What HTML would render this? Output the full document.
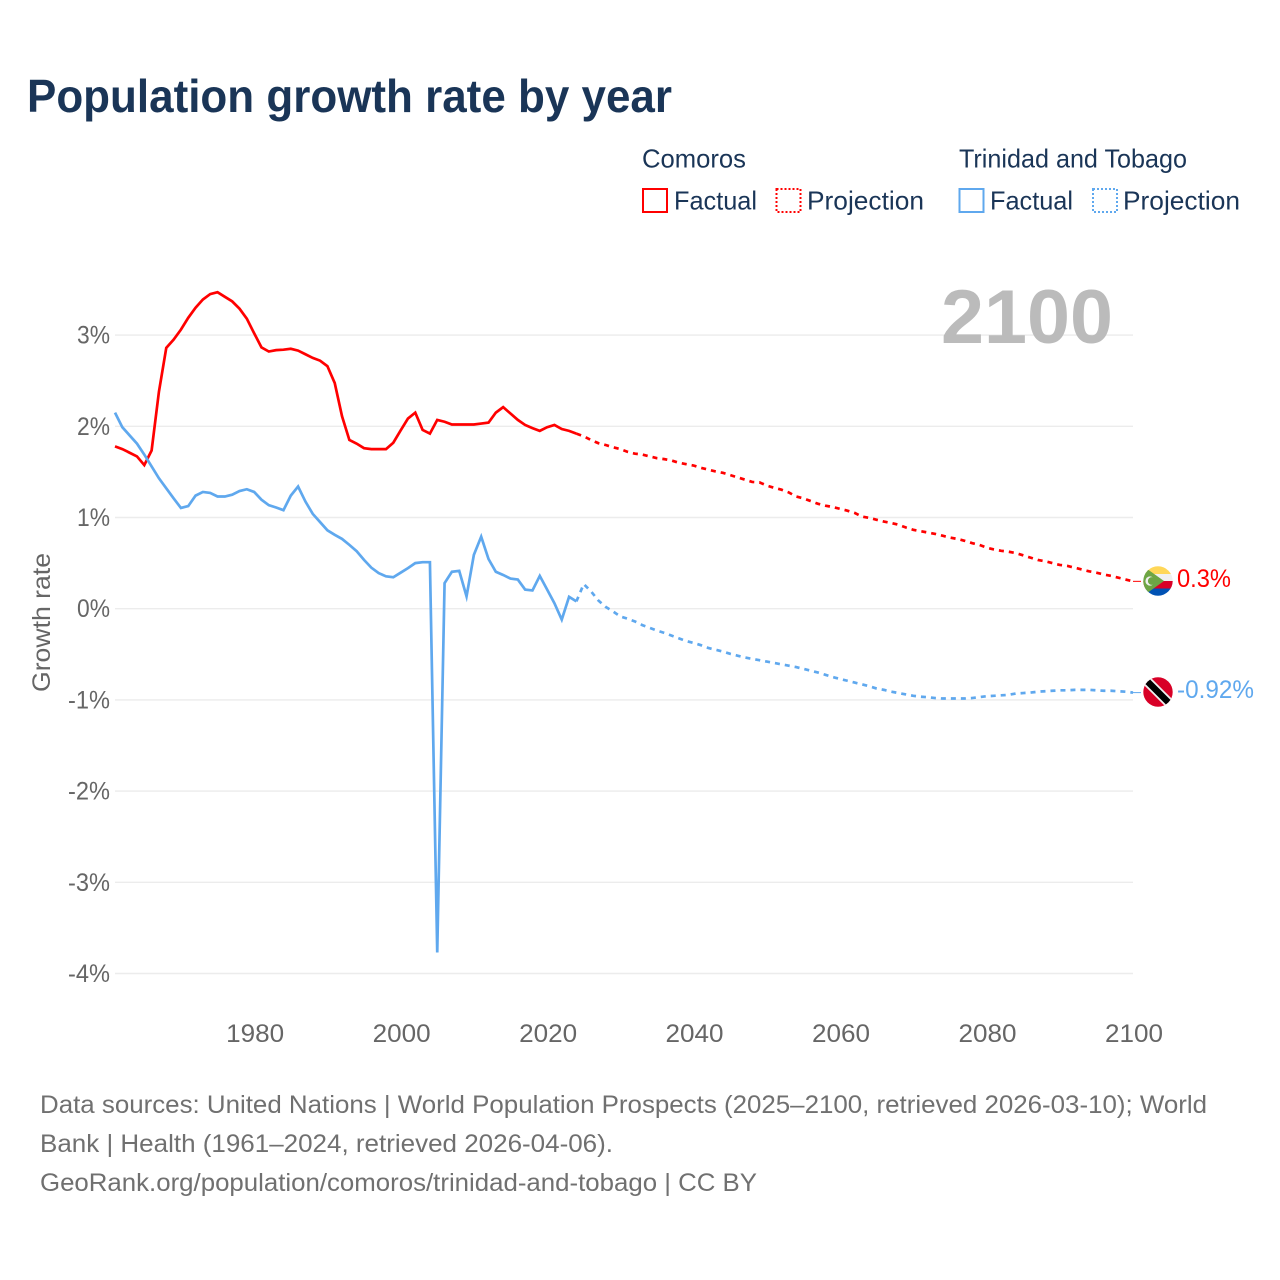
<!DOCTYPE html>
<html lang="en">
<head>
<meta charset="utf-8">
<title>Population growth rate by year</title>
<style>
  html, body { margin: 0; padding: 0; background: #fff; }
  svg { display: block; font-family: "Liberation Sans", sans-serif; }
</style>
</head>
<body>
<svg id="chart" xmlns="http://www.w3.org/2000/svg" width="1280" height="1280" viewBox="0 0 1280 1280">
  <defs>
    <clipPath id="flag-clip-a"><circle cx="1158" cy="581" r="14.7"/></clipPath>
    <clipPath id="flag-clip-b"><circle cx="1158" cy="692" r="14.7"/></clipPath>
  </defs>
  <rect width="1280" height="1280" fill="#fff"/>

  <text x="27" y="112" font-size="46" font-weight="700" fill="#1a3557" textLength="645" lengthAdjust="spacingAndGlyphs">Population growth rate by year</text>

  <g font-size="26" fill="#1a3557">
    <text x="642" y="167.5" textLength="104" lengthAdjust="spacingAndGlyphs">Comoros</text>
    <text x="959" y="167.5" textLength="228" lengthAdjust="spacingAndGlyphs">Trinidad and Tobago</text>

    <g>
      <rect x="643" y="189" width="24" height="23" fill="none" stroke="#ff0000" stroke-width="2"/>
      <text x="674" y="209.5" textLength="83" lengthAdjust="spacingAndGlyphs">Factual</text>
    </g>
    <g>
      <rect x="776.5" y="189" width="24" height="23" fill="none" stroke="#ff0000" stroke-width="2" stroke-dasharray="2 2"/>
      <text x="807" y="209.5" textLength="117" lengthAdjust="spacingAndGlyphs">Projection</text>
    </g>
    <g>
      <rect x="959.5" y="189" width="24" height="23" fill="none" stroke="#5fa8ee" stroke-width="2"/>
      <text x="990" y="209.5" textLength="83" lengthAdjust="spacingAndGlyphs">Factual</text>
    </g>
    <g>
      <rect x="1093" y="189" width="24" height="23" fill="none" stroke="#5fa8ee" stroke-width="2" stroke-dasharray="2 2"/>
      <text x="1123" y="209.5" textLength="117" lengthAdjust="spacingAndGlyphs">Projection</text>
    </g>
  </g>

  <g id="grid"></g>
  <g id="y-axis" font-size="25" fill="#666"></g>
  <g id="x-axis" font-size="25" fill="#666"></g>

  <text transform="translate(50,692) rotate(-90)" font-size="25" fill="#666" textLength="139" lengthAdjust="spacingAndGlyphs">Growth rate</text>

  <text x="941" y="343" font-size="76" font-weight="700" fill="#bbbbbb" textLength="172" lengthAdjust="spacingAndGlyphs">2100</text>

  <g id="series"></g>

  <g clip-path="url(#flag-clip-a)">
    <rect x="1143" y="566" width="30" height="8" fill="#ffd758"/>
    <rect x="1143" y="574" width="30" height="7" fill="#f0f0f0"/>
    <rect x="1143" y="581" width="30" height="7.5" fill="#d80027"/>
    <rect x="1143" y="588.5" width="30" height="8" fill="#0052b4"/>
    <polygon points="1143,566 1143,596 1164,581" fill="#6da544"/>
    <circle cx="1150" cy="581" r="4.6" fill="#f0f0f0"/>
    <circle cx="1151.8" cy="581" r="3.9" fill="#6da544"/>
  </g>
  <g clip-path="url(#flag-clip-b)">
    <rect x="1143" y="677" width="30" height="30" fill="#d80027"/>
    <line x1="1146" y1="680" x2="1170" y2="704" stroke="#f0f0f0" stroke-width="10"/>
    <line x1="1146" y1="680" x2="1170" y2="704" stroke="#000" stroke-width="6.5"/>
  </g>

  <text id="end-label-a" x="1177" y="587" font-size="25" fill="#ff0000" textLength="54" lengthAdjust="spacingAndGlyphs">0.3%</text>
  <text id="end-label-b" x="1177" y="698" font-size="25" fill="#5fa8ee" textLength="77" lengthAdjust="spacingAndGlyphs">-0.92%</text>

  <g font-size="25" fill="#707070">
    <text x="40" y="1113" textLength="1167" lengthAdjust="spacingAndGlyphs">Data sources: United Nations | World Population Prospects (2025–2100, retrieved 2026-03-10); World</text>
    <text x="40" y="1152" textLength="573" lengthAdjust="spacingAndGlyphs">Bank | Health (1961–2024, retrieved 2026-04-06).</text>
    <text x="40" y="1191" textLength="717" lengthAdjust="spacingAndGlyphs">GeoRank.org/population/comoros/trinidad-and-tobago | CC BY</text>
  </g>
</svg>

<script>
const yTickValues = [3, 2, 1, 0, -1, -2, -3, -4];
const xTickYears = [1980, 2000, 2020, 2040, 2060, 2080, 2100];
const factualStartYear = 1961;
const projectionStartYear = 2024;

const comorosFactual = [
  1.78, 1.75, 1.71, 1.67, 1.575, 1.735, 2.38, 2.86, 2.95, 3.06,
  3.19, 3.30, 3.39, 3.45, 3.47, 3.42, 3.37, 3.29, 3.18, 3.02,
  2.865, 2.82, 2.835, 2.84, 2.85, 2.83, 2.79, 2.75, 2.72, 2.66,
  2.475, 2.11, 1.85, 1.81, 1.76, 1.75, 1.75, 1.75, 1.82, 1.955,
  2.085, 2.15, 1.96, 1.92, 2.07, 2.05, 2.02, 2.02, 2.02, 2.02,
  2.03, 2.04, 2.15, 2.21, 2.14, 2.07, 2.015, 1.98, 1.95, 1.99,
  2.015, 1.97, 1.95, 1.92
];

const comorosProjection = [
  1.92, 1.89, 1.85, 1.815, 1.795, 1.77, 1.75, 1.72, 1.70, 1.69, 1.67,
  1.65, 1.64, 1.625, 1.60, 1.585, 1.57, 1.545, 1.525, 1.505, 1.49,
  1.465, 1.44, 1.415, 1.39, 1.385, 1.35, 1.325, 1.305, 1.275, 1.23,
  1.21, 1.18, 1.15, 1.13, 1.115, 1.095, 1.075, 1.05, 1.01, 0.995,
  0.975, 0.955, 0.94, 0.92, 0.89, 0.865, 0.85, 0.835, 0.82, 0.80,
  0.78, 0.765, 0.745, 0.72, 0.70, 0.67, 0.65, 0.635, 0.625, 0.61,
  0.585, 0.56, 0.535, 0.52, 0.50, 0.48, 0.47, 0.45, 0.43, 0.41,
  0.395, 0.375, 0.36, 0.34, 0.32, 0.30
];

const trinidadFactual = [
  2.15, 1.99, 1.90, 1.81, 1.69, 1.56, 1.43, 1.32, 1.21, 1.105,
  1.125, 1.24, 1.28, 1.27, 1.23, 1.23, 1.25, 1.29, 1.31, 1.28,
  1.195, 1.135, 1.11, 1.08, 1.24, 1.34, 1.175, 1.04, 0.95, 0.86,
  0.81, 0.765, 0.70, 0.63, 0.535, 0.45, 0.39, 0.355, 0.345, 0.395,
  0.445, 0.50, 0.51, 0.51, -3.77, 0.28, 0.405, 0.415, 0.135, 0.59,
  0.79, 0.545, 0.405, 0.37, 0.33, 0.32, 0.21, 0.20, 0.36, 0.21,
  0.06, -0.12, 0.13, 0.08
];

const trinidadProjection = [
  0.08, 0.27, 0.19, 0.09, 0.02, -0.03, -0.085, -0.11, -0.14, -0.18, -0.21,
  -0.24, -0.265, -0.295, -0.325, -0.355, -0.375, -0.40, -0.43, -0.45, -0.47,
  -0.495, -0.515, -0.535, -0.55, -0.565, -0.58, -0.595, -0.61, -0.625, -0.64,
  -0.66, -0.68, -0.70, -0.725, -0.75, -0.77, -0.79, -0.81, -0.83, -0.85,
  -0.875, -0.89, -0.91, -0.925, -0.94, -0.955, -0.965, -0.97, -0.98, -0.985,
  -0.985, -0.985, -0.985, -0.98, -0.97, -0.96, -0.955, -0.95, -0.945, -0.93,
  -0.925, -0.92, -0.91, -0.905, -0.90, -0.895, -0.895, -0.89, -0.89, -0.89,
  -0.895, -0.90, -0.90, -0.905, -0.91, -0.92
];

const SVG_NS = 'http://www.w3.org/2000/svg';
const RED = '#ff0000';
const BLUE = '#5fa8ee';

function xScale(year) { return 115 + (year - 1961) * (1133 - 115) / 139; }
function yScale(value) { return 608.7 - value * 91.2; }

function linePath(startYear, values) {
  return values.map(function (v, i) {
    return (i ? 'L' : 'M') + xScale(startYear + i).toFixed(2) + ' ' + yScale(v).toFixed(2);
  }).join(' ');
}

const gridGroup = document.getElementById('grid');
const yAxisGroup = document.getElementById('y-axis');
const xAxisGroup = document.getElementById('x-axis');
const seriesGroup = document.getElementById('series');

yTickValues.forEach(function (v) {
  const rule = document.createElementNS(SVG_NS, 'line');
  
  
  rule.setAttribute('x1', xScale(1961));
  rule.setAttribute('x2', xScale(2100));
  rule.setAttribute('y1', yScale(v));
  rule.setAttribute('y2', yScale(v));
  rule.setAttribute('stroke', '#ececec');
  rule.setAttribute('stroke-width', '1.4');
  gridGroup.appendChild(rule);

  const label = document.createElementNS(SVG_NS, 'text');
  
  
  label.setAttribute('x', 110);
  label.setAttribute('y', yScale(v) + 8.5);
  label.setAttribute('text-anchor', 'end');
  label.setAttribute('textLength', v < 0 ? 42 : 33);
  label.setAttribute('lengthAdjust', 'spacingAndGlyphs');
  label.textContent = v + '%';
  yAxisGroup.appendChild(label);
});

xTickYears.forEach(function (year) {
  const label = document.createElementNS(SVG_NS, 'text');
  
  
  label.setAttribute('x', xScale(year) + 1);
  label.setAttribute('y', 1042);
  label.setAttribute('text-anchor', 'middle');
  label.setAttribute('textLength', 58);
  label.setAttribute('lengthAdjust', 'spacingAndGlyphs');
  label.textContent = String(year);
  xAxisGroup.appendChild(label);
});

function addLine(name, startYear, values, color, dashed) {
  const path = document.createElementNS(SVG_NS, 'path');
  
  
  path.setAttribute('d', linePath(startYear, values));
  path.setAttribute('fill', 'none');
  path.setAttribute('stroke', color);
  path.setAttribute('stroke-width', '2.7');
  path.setAttribute('stroke-linejoin', 'miter');
  path.setAttribute('stroke-miterlimit', '30');
  if (dashed) {
    path.setAttribute('stroke-dasharray', '5 5');
  }
  seriesGroup.appendChild(path);
}

function addConnector(name, lastValue, color) {
  const connector = document.createElementNS(SVG_NS, 'line');
  
  
  connector.setAttribute('x1', xScale(2100));
  connector.setAttribute('x2', xScale(2100) + 8);
  connector.setAttribute('y1', yScale(lastValue));
  connector.setAttribute('y2', yScale(lastValue));
  connector.setAttribute('stroke', color);
  connector.setAttribute('stroke-width', '1');
  seriesGroup.appendChild(connector);
}

addLine('comoros-factual-line', factualStartYear, comorosFactual, RED, false);
addLine('comoros-projection-line', projectionStartYear, comorosProjection, RED, true);
addLine('trinidad-factual-line', factualStartYear, trinidadFactual, BLUE, false);
addLine('trinidad-projection-line', projectionStartYear, trinidadProjection, BLUE, true);
addConnector('comoros-end-connector', comorosProjection[comorosProjection.length - 1], RED);
addConnector('trinidad-end-connector', trinidadProjection[trinidadProjection.length - 1], BLUE);
</script>
</body>
</html>
